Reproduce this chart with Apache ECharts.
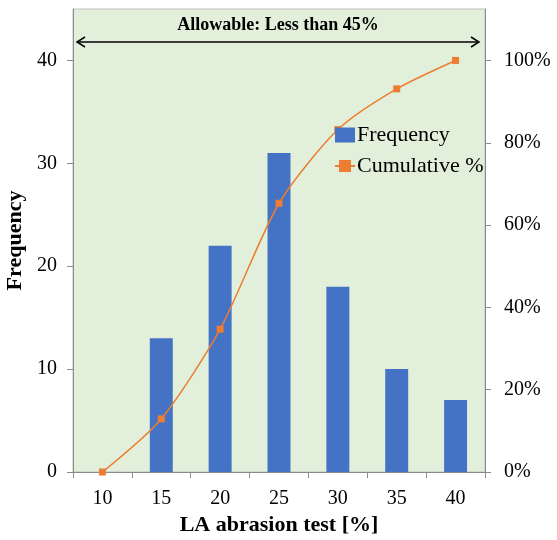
<!DOCTYPE html>
<html><head><meta charset="utf-8">
<script src="https://cdn.jsdelivr.net/npm/echarts@6/dist/echarts.min.js"></script>
<style>html,body{margin:0;padding:0;background:#fff}#c{width:557px;height:540px}</style>
</head><body><div id="c"></div>
<script>
const categories = ['10','15','20','25','30','35','40'];
const frequency = [0, 13, 22, 31, 18, 10, 7];
const cumulative = [0, 12.9, 34.7, 65.3, 83.2, 93.1, 100];
const leftTicks = [0, 10, 20, 30, 40];
const rightTicks = [0, 20, 40, 60, 80, 100];

const FONT = '"Liberation Serif", "Times New Roman", serif';
const chart = echarts.init(document.getElementById('c'), null, {renderer: 'canvas'});
chart.setOption({
  animation: false,
  grid: {left: 73, right: 72, top: 9, bottom: 68, outerBoundsMode: 'none', containLabel: false, show: true, backgroundColor: '#E2EFDA', borderColor: '#BFBFBF', borderWidth: 1},
  legend: {
    orient: 'vertical', left: 329, top: 119, itemGap: 9, itemWidth: 20, itemHeight: 15,
    textStyle: {fontFamily: FONT, fontSize: 22, color: '#000', padding: [0, 0, 0, -3]},
    data: [{name: 'Frequency', icon: 'rect'}, {name: 'Cumulative %'}]
  },
  xAxis: {
    type: 'category', data: categories, boundaryGap: true,
    name: 'LA abrasion test [%]', nameLocation: 'middle', nameGap: 42,
    nameTextStyle: {fontFamily: FONT, fontSize: 22, fontWeight: 'bold', color: '#000'},
    axisLine: {lineStyle: {color: '#8C8C8C'}},
    axisTick: {show: true, length: 6, lineStyle: {color: '#8C8C8C'}},
    axisLabel: {fontFamily: FONT, fontSize: 20, color: '#000', margin: 17}
  },
  yAxis: [{
    type: 'value', min: 0, max: 45, position: 'left',
    name: 'Frequency', nameLocation: 'middle', nameGap: 36, nameRotate: 90,
    nameTextStyle: {fontFamily: FONT, fontSize: 22, fontWeight: 'bold', color: '#000'},
    axisLine: {show: true, lineStyle: {color: '#8C8C8C'}},
    axisTick: {show: true, length: 6, customValues: leftTicks, lineStyle: {color: '#8C8C8C'}},
    axisLabel: {fontFamily: FONT, fontSize: 20, color: '#000', margin: 16, customValues: leftTicks},
    splitLine: {show: false}
  }, {
    type: 'value', min: 0, max: 112.5, position: 'right',
    axisLine: {show: true, lineStyle: {color: '#8C8C8C'}},
    axisTick: {show: true, length: 6, customValues: rightTicks, lineStyle: {color: '#8C8C8C'}},
    axisLabel: {fontFamily: FONT, fontSize: 20, color: '#000', margin: 19, customValues: rightTicks, formatter: v => v + '%'},
    splitLine: {show: false}
  }],
  series: [{
    name: 'Frequency', type: 'bar', data: frequency, yAxisIndex: 0,
    barWidth: '39%', itemStyle: {color: '#4472C4'}
  }, {
    name: 'Cumulative %', type: 'line', data: cumulative, yAxisIndex: 1,
    smooth: 0.25, symbol: 'rect', symbolSize: 7,
    lineStyle: {color: '#ED7D31', width: 1.5}, itemStyle: {color: '#ED7D31'}
  }],
  graphic: [
    {type: 'text', style: {text: 'Allowable: Less than 45%', fontFamily: FONT, fontSize: 18, fontWeight: 'bold', fill: '#000', x: 278, y: 25, align: 'center', verticalAlign: 'middle'}},
    {type: 'line', shape: {x1: 77, y1: 42, x2: 479, y2: 42}, style: {stroke: '#000', lineWidth: 1.5}},
    {type: 'polyline', shape: {points: [[85, 37], [77, 42], [85, 47]]}, style: {stroke: '#000', lineWidth: 1.5, fill: null}},
    {type: 'polyline', shape: {points: [[471, 37], [479, 42], [471, 47]]}, style: {stroke: '#000', lineWidth: 1.5, fill: null}}
  ]
});
</script></body></html>
